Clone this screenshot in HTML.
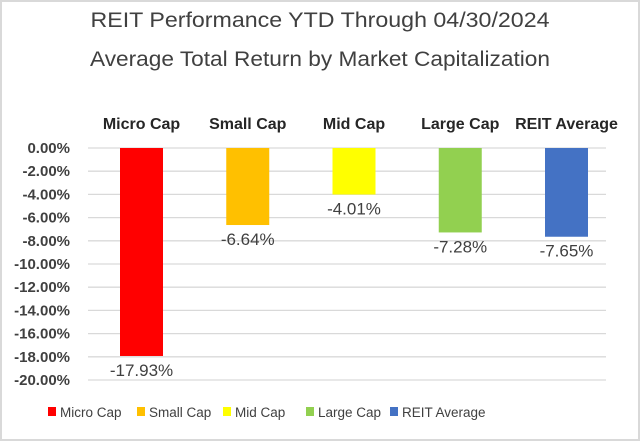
<!DOCTYPE html>
<html><head><meta charset="utf-8"><style>
body{margin:0;background:#fff}
svg{display:block;font-family:"Liberation Sans",sans-serif}
</style></head><body>
<svg width="640" height="441" xmlns="http://www.w3.org/2000/svg">
<rect x="1" y="1" width="638" height="439" fill="#fff" stroke="#d9d9d9" stroke-width="2"/>
<text x="320" y="27" text-anchor="middle" font-size="21" fill="#404040" textLength="459" lengthAdjust="spacingAndGlyphs">REIT Performance YTD Through 04/30/2024</text>
<text x="320" y="66" text-anchor="middle" font-size="21" fill="#404040" textLength="460" lengthAdjust="spacingAndGlyphs">Average Total Return by Market Capitalization</text>
<g id="grid"></g><g id="bars"></g><g id="legend"></g>
</svg>
<script>
const categories=["Micro Cap","Small Cap","Mid Cap","Large Cap","REIT Average"];
const values=[-17.93,-6.64,-4.01,-7.28,-7.65];
const colors=["#ff0000","#ffc000","#ffff00","#92d050","#4472c4"];
const ticks=[0,-2,-4,-6,-8,-10,-12,-14,-16,-18,-20];
const NS="http://www.w3.org/2000/svg";
const y=v=>148+(-v)/20*232;
const cx=i=>141.5+i*106.25;
function mk(t,a,p,txt){const e=document.createElementNS(NS,t);for(const k in a)e.setAttribute(k,a[k]);if(txt!=null)e.textContent=txt;p.appendChild(e);return e;}
const g=document.getElementById('grid'),b=document.getElementById('bars'),l=document.getElementById('legend');
ticks.forEach(t=>{
 const ln=mk('line',{x1:88,x2:606,y1:y(t),y2:y(t),stroke:'#d9d9d9','stroke-width':1.3},g);
 
 
 const tx=mk('text',{x:70,y:y(t)+5,'text-anchor':'end','font-size':15,'font-weight':'bold',fill:'#404040'},g,t.toFixed(2)+'%');
 
 
});
categories.forEach((c,i)=>{
 const r=mk('rect',{x:cx(i)-21.5,y:y(0),width:43,height:y(values[i])-y(0),fill:colors[i]},b);
 
 
 const cl=mk('text',{x:cx(i),y:129,'text-anchor':'middle','font-size':16,'font-weight':'bold',fill:'#262626'},b,c);
 
 
 const vl=mk('text',{x:cx(i),y:y(values[i])+20,'text-anchor':'middle','font-size':17,fill:'#404040'},b,values[i].toFixed(2)+'%');
 
 
});
const lx=[48,137,223,306,390];
categories.forEach((c,i)=>{
 const s=mk('rect',{x:lx[i],y:407,width:8,height:9,fill:colors[i]},l);
 
 
 const t=mk('text',{x:lx[i]+12,y:417,'font-size':13.5,fill:'#404040'},l,c);
 
 
});
</script>
</body></html>
